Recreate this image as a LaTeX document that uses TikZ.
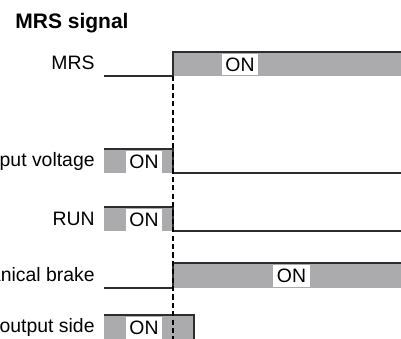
\documentclass[tikz,border=0pt]{standalone}
\usepackage{fontspec}
\setmainfont{Liberation Sans}
\usepackage{xcolor}
\usetikzlibrary{positioning}
\definecolor{sigGray}{RGB}{171,171,173}
\definecolor{sigLine}{RGB}{45,45,45}

\begin{document}
\begin{tikzpicture}[
    x=0.5pt, y=-0.5pt,
    font=\fontsize{9.7}{11}\selectfont,
    % Styles
    label/.style={anchor=east, inner sep=0pt},
    onbox/.style={fill=white, inner xsep=1.8pt, inner ysep=1pt, minimum height=10.6pt},
    level/.style={draw=sigLine, line width=0.75pt, line join=miter},
    bar/.style={fill=sigGray},
    edge/.style={draw=black, line width=0.55pt, dash pattern=on 2.6pt off 1.6pt}
]
\useasboundingbox (0,0) rectangle (401,338);
\clip (0,0) rectangle (401,338);

% --- Title ---
\node[anchor=base west, inner sep=0pt, font=\fontsize{10.5}{12}\selectfont\bfseries] (title) at (15,28) {MRS signal};

% --- MRS ---
\node[label] (mrs) at (95,63) {MRS};
\fill[bar] (173,52) rectangle (402,76);
\draw[level] (104,76) -- (173,76) -- (173,52) -- (402,52);
\node[onbox] (mrs_on) at (240,64.5) {ON};

% --- Output voltage ---
\node[label] (volt) at (95,161) {Output voltage};
\fill[bar] (104,149) rectangle (173,173);
\draw[level] (104,149) -- (173,149) -- (173,173) -- (402,173);
\node[onbox] (volt_on) at (144,162) {ON};

% --- RUN ---
\node[label] (run) at (95,219) {RUN};
\fill[bar] (104,207) rectangle (173,231);
\draw[level] (104,207) -- (173,207) -- (173,231) -- (402,231);
\node[onbox] (run_on) at (144,220) {ON};

% --- Mechanical brake ---
\node[label] (brake) at (95,275) {Mechanical brake};
\fill[bar] (173,263) rectangle (402,288);
\draw[level] (104,288) -- (173,288) -- (173,263) -- (402,263);
\node[onbox] (brake_on) at (291.5,276) {ON};

% --- Output side ---
\node[label] (mc) at (95,327) {MC on output side};
\fill[bar] (104,315) rectangle (194,345);
\draw[level] (104,315) -- (194,315) -- (194,345);
\node[onbox] (mc_on) at (144,328) {ON};

% --- Switching edge ---
\coordinate (edge_top) at (173,76);
\coordinate (edge_bot) at (173,345);
\draw[edge] (edge_top) -- (edge_bot);

\end{tikzpicture}
\end{document}
